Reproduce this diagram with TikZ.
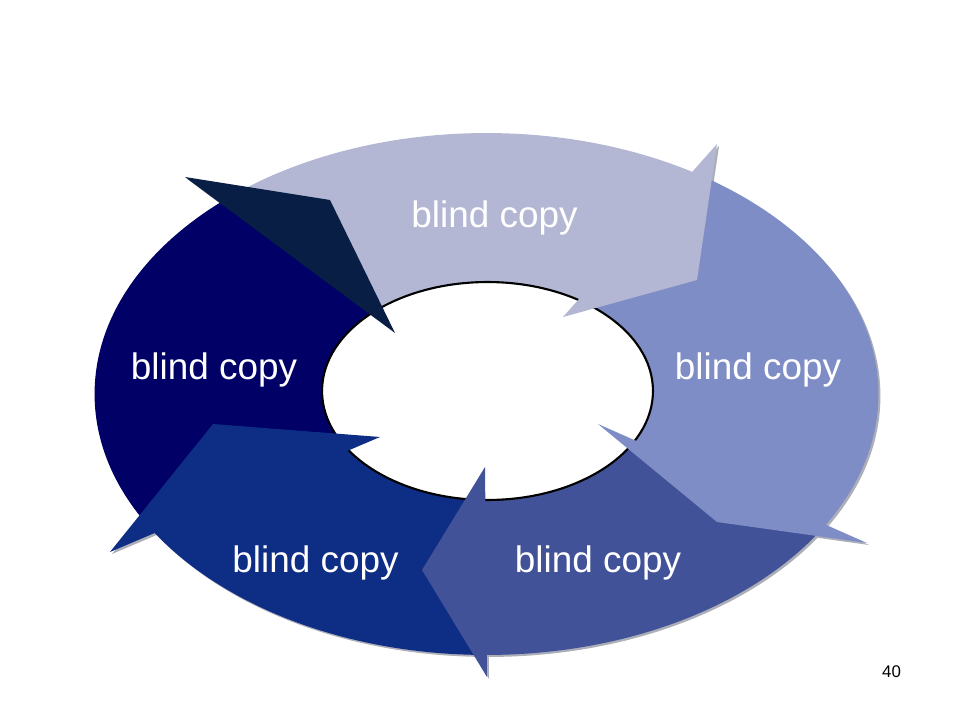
\documentclass[tikz,border=0pt]{standalone}
\usepackage{fontspec}
\setmainfont{Liberation Sans}
\definecolor{segtop}{RGB}{179,183,211}
\definecolor{segright}{RGB}{127,141,198}
\definecolor{segbr}{RGB}{66,82,152}
\definecolor{segbl}{RGB}{14,45,133}
\definecolor{segleft}{RGB}{0,0,102}
\definecolor{headleft}{RGB}{9,30,69}
\definecolor{rimshadow}{RGB}{172,174,184}
\begin{document}
\begin{tikzpicture}[x=0.02cm,y=-0.02cm,
  lbl/.style={text=white,font=\fontsize{21}{25}\selectfont,anchor=base,inner sep=0pt},
  pagenum/.style={text=black,font=\fontsize{9.6}{11}\selectfont,anchor=base,inner sep=0pt}]
\useasboundingbox (0,0) rectangle (960,720);
\fill[rimshadow] (488.5,396) ellipse [x radius=7.84cm, y radius=5.22cm];
\fill[rimshadow] (187,179) -- (332,202) -- (397,335) -- cycle;
\fill[rimshadow] (719,146) -- (699,282) -- (565,319) -- cycle;
\fill[rimshadow] (600,426) -- (719,524) -- (869,545) -- cycle;
\fill[rimshadow] (487,469) -- (424,572) -- (489,679) -- cycle;
\fill[rimshadow] (382,439) -- (215,426) -- (112,554) -- cycle;
\begin{scope}
  \clip (486.5,394) ellipse [x radius=7.84cm, y radius=5.22cm];
  \fill[segtop] (396.8,330.6) -- (-233.2,-137.4) -- (1028,-199.4) -- (566,319.6) -- cycle;
  \fill[segright] (565.3,319) -- (1027.3,-200) -- (1403.6,784.7) -- (596.6,427.7) -- cycle;
  \fill[segbr] (596.9,426.8) -- (1403.9,783.8) -- (487,1097) -- (481,467) -- cycle;
  \fill[segbl] (482,467) -- (488,1097) -- (-431.7,778.4) -- (378.3,433.4) -- cycle;
  \fill[segleft] (378.7,434.3) -- (-431.3,779.3) -- (-232.6,-138.2) -- (397.4,329.8) -- cycle;
\end{scope}
\draw[line width=1.2pt,fill=white] (487.5,391) ellipse [x radius=3.31cm, y radius=2.18cm];
\fill[headleft] (185,177) -- (330,200) -- (395,333) -- cycle;
\fill[segtop] (717,144) -- (697,280) -- (563,317) -- cycle;
\fill[segright] (598,424) -- (717,522) -- (867,543) -- cycle;
\fill[segbr] (485,467) -- (422,570) -- (487,677) -- cycle;
\fill[segbl] (380,437) -- (213,424) -- (110,552) -- cycle;
\node[lbl] (ltop) at (494.5,227) {blind copy};
\node[lbl] (lright) at (758,379) {blind copy};
\node[lbl] (lleft) at (214,379) {blind copy};
\node[lbl] (lbotright) at (598,572) {blind copy};
\node[lbl] (lbotleft) at (315.5,572) {blind copy};
\node[pagenum] (page) at (891.5,677) {40};
\end{tikzpicture}
\end{document}
